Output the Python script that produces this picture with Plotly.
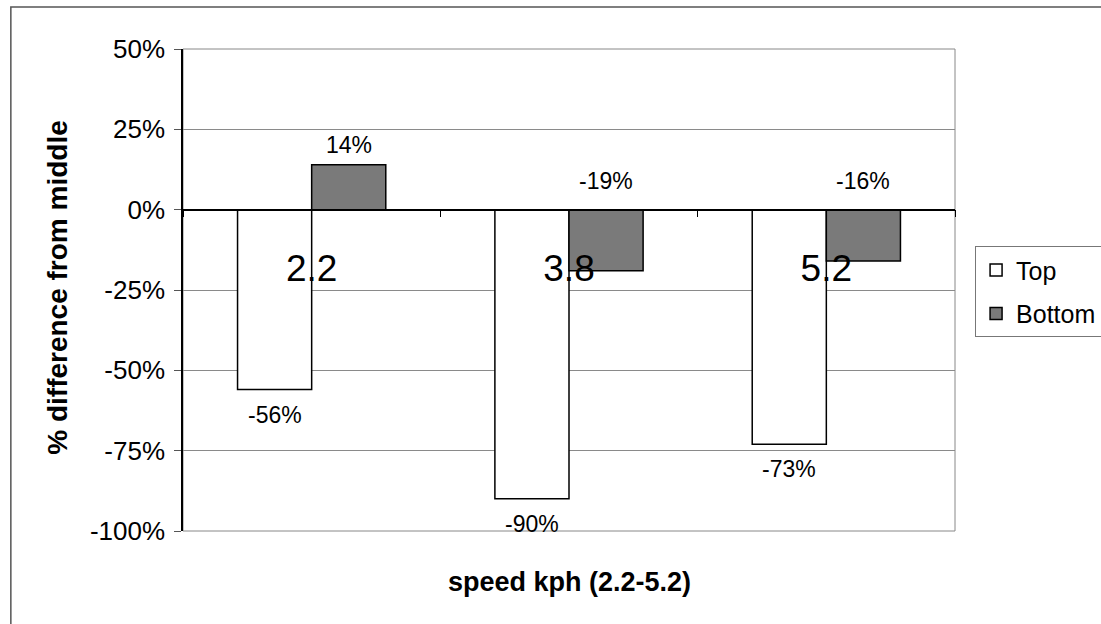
import plotly.graph_objects as go

categories = ["2.2", "3.8", "5.2"]
top_vals = [-56, -90, -73]
bottom_vals = [14, -19, -16]
y_tick_vals = [50, 25, 0, -25, -50, -75, -100]
y_tick_labels = ["50%", "25%", "0%", "-25%", "-50%", "-75%", "-100%"]
series_names = ["Top", "Bottom"]

FONT = "Liberation Sans, Arial, sans-serif"
BARGAP = 0.424
Y_MIN, Y_MAX = -100, 50

fig = go.Figure()
fig.add_trace(go.Bar(
    x=categories, y=top_vals, name=series_names[0], legendgroup="g1",
    marker=dict(color="white", line=dict(color="black", width=1.5)),
))
fig.add_trace(go.Bar(
    x=categories, y=bottom_vals, name=series_names[1], legendgroup="g2",
    marker=dict(color="#7a7a7a", line=dict(color="black", width=1.5)),
))

bar_w = (1 - BARGAP) / 2
annotations = []
for i, v in enumerate(top_vals):
    annotations.append(dict(x=i - bar_w / 2, y=v, xref="x", yref="y",
                            text=f"{v}%", showarrow=False, yshift=-25,
                            font=dict(size=23, color="black", family=FONT)))
for i, v in enumerate(bottom_vals):
    annotations.append(dict(x=i + bar_w / 2, y=max(v, 0), xref="x", yref="y",
                            text=f"{v}%", showarrow=False,
                            yshift=20 if v > 0 else 29,
                            font=dict(size=23, color="black", family=FONT)))

# axis titles
annotations.append(dict(x=0.5, y=-0.106, xref="paper", yref="paper",
                        xanchor="center", yanchor="middle",
                        text="<b>speed kph (2.2-5.2)</b>", showarrow=False,
                        font=dict(size=27, color="black", family=FONT)))
annotations.append(dict(x=-0.163, y=0.505, xref="paper", yref="paper",
                        xanchor="center", yanchor="middle",
                        text="<b>% difference from middle</b>", showarrow=False,
                        textangle=-90,
                        font=dict(size=28, color="black", family=FONT)))

shapes = [
    # plot area border
    dict(type="rect", xref="paper", yref="paper", x0=0, x1=1, y0=0, y1=1,
         line=dict(color="#888888", width=1), layer="below"),
    # chart outer border
    dict(type="rect", xref="paper", yref="paper", x0=-0.223, x1=1.2, y0=-0.23, y1=1.087,
         line=dict(color="#555555", width=1.5)),
]

fig.update_layout(
    width=1101, height=624,
    margin=dict(l=183, r=146, t=49, b=93, autoexpand=False),
    paper_bgcolor="white", plot_bgcolor="white",
    barmode="group", bargap=BARGAP, bargroupgap=0,
    font=dict(family=FONT, color="black"),
    showlegend=True,
    legend=dict(x=1.026, y=0.591, xanchor="left", yanchor="top",
                bgcolor="white", bordercolor="#777777", borderwidth=1,
                font=dict(size=25, family=FONT, color="black"),
                tracegroupgap=8, itemwidth=30),
    annotations=annotations,
    shapes=shapes,
    xaxis=dict(type="category", anchor="free",
               position=(0 - Y_MIN) / (Y_MAX - Y_MIN),
               showline=True, linecolor="black", linewidth=1.5,
               ticks="outside", tickson="boundaries", ticklen=7, tickcolor="black",
               showgrid=False, zeroline=False,
               tickfont=dict(size=37, family=FONT, color="black"),
               ticklabelstandoff=26),
    yaxis=dict(range=[Y_MIN, Y_MAX], tickvals=y_tick_vals, ticktext=y_tick_labels,
               showline=True, linecolor="black", linewidth=1.5,
               ticks="outside", ticklen=7, tickcolor="#555555",
               showgrid=True, gridcolor="#8a8a8a", gridwidth=1,
               zeroline=False, ticklabelstandoff=4,
               tickfont=dict(size=26, family=FONT, color="black")),
)

fig.write_html("out.html")
